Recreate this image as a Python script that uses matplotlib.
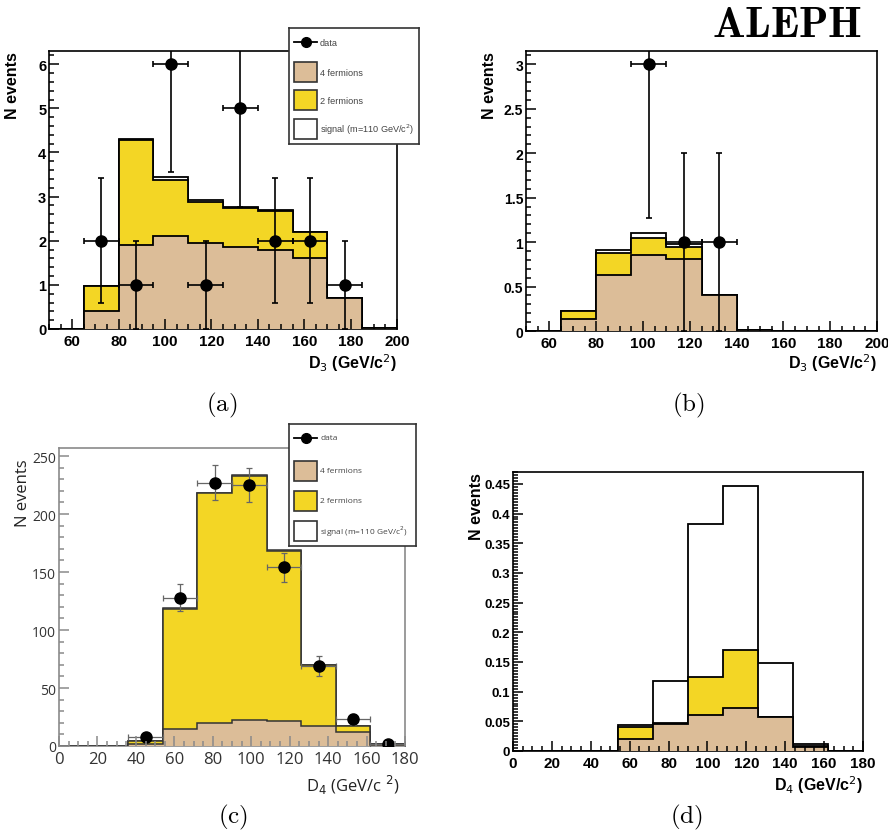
import numpy as np
import matplotlib.pyplot as plt
from matplotlib.patches import Rectangle
from matplotlib.ticker import MultipleLocator, FuncFormatter

W, H = 888, 837
TAN = '#dcbd98'
YELLOW = '#f3d625'

# ---- data ----
# (a) D3 spectrum, 15 GeV bins from 50 to 200
a_edges = np.arange(50, 201, 15)
a_4f = [0.0, 0.40, 1.90, 2.10, 1.95, 1.85, 1.80, 1.62, 0.70, 0.02]
a_2f = [0.0, 0.58, 2.38, 1.28, 0.93, 0.90, 0.88, 0.58, 0.00, 0.00]
a_sig = [0.0, 0.00, 0.02, 0.07, 0.04, 0.02, 0.01, 0.00, 0.00, 0.00]
a_data = [0, 2, 1, 6, 1, 5, 2, 2, 1, 0]

# (b) D3 after selection
b_edges = np.arange(50, 201, 15)
b_4f = [0.0, 0.14, 0.63, 0.85, 0.81, 0.40, 0.01, 0.0, 0.0, 0.0]
b_2f = [0.0, 0.09, 0.25, 0.20, 0.13, 0.00, 0.00, 0.0, 0.0, 0.0]
b_sig = [0.0, 0.00, 0.03, 0.05, 0.04, 0.01, 0.00, 0.0, 0.0, 0.0]
b_data = [0, 0, 0, 3, 1, 1, 0, 0, 0, 0]

# (c) D4 spectrum, 18 GeV bins from 0 to 180
c_edges = np.arange(0, 181, 18)
c_4f = [0, 0, 2.0, 15.0, 19.5, 22.5, 21.5, 17.0, 12.0, 1.0]
c_2f = [0, 0, 2.0, 103.5, 198.5, 210.0, 146.5, 52.5, 5.0, 0.5]
c_sig = [0, 0, 0.0, 0.2, 0.5, 1.0, 0.8, 0.3, 0.0, 0.0]
c_data = [0, 0, 8, 128, 227, 225, 154, 69, 23, 2]

# (d) D4 after selection
d_edges = np.arange(0, 181, 18)
d_4f = [0, 0, 0, 0.020, 0.046, 0.060, 0.073, 0.058, 0.006, 0]
d_2f = [0, 0, 0, 0.021, 0.001, 0.065, 0.097, 0.000, 0.002, 0]
d_sig = [0, 0, 0, 0.003, 0.071, 0.258, 0.276, 0.090, 0.003, 0]

fig = plt.figure(figsize=(W / 100, H / 100), dpi=100)


def px_axes(left, top, right, bottom):
    return fig.add_axes([left / W, 1 - bottom / H, (right - left) / W, (bottom - top) / H])


def stack(ax, edges, f4, f2, sig, lw=1.3, ec='black'):
    f4 = np.array(f4)
    tot2 = f4 + np.array(f2)
    tot = tot2 + np.array(sig)
    for z, (h, c) in enumerate([(tot, 'white'), (tot2, YELLOW), (f4, TAN)]):
        ax.stairs(h, edges, fill=True, color=c, zorder=1 + z)
        ax.stairs(h, edges, color=ec, lw=lw, zorder=1.5 + z)


def data_points(ax, edges, counts, ms=8, ecol='black', elw=1.2):
    counts = np.array(counts, dtype=float)
    centres = 0.5 * (edges[1:] + edges[:-1])
    half = 0.5 * np.diff(edges)
    m = counts > 0
    ax.errorbar(centres[m], counts[m], yerr=np.sqrt(counts[m]), xerr=half[m],
                fmt='o', color='black', ecolor=ecol, ms=ms, elinewidth=elw,
                capsize=2.5, capthick=elw, zorder=10, clip_on=True)


def style(ax, xlim, ylim, xmaj, xmin, ymaj, ymin, font, weight, xsize, ysize,
          frame='black'):
    ax.set_xlim(*xlim)
    ax.set_ylim(*ylim)
    ax.xaxis.set_major_locator(MultipleLocator(xmaj))
    ax.xaxis.set_minor_locator(MultipleLocator(xmin))
    ax.yaxis.set_major_locator(MultipleLocator(ymaj))
    ax.yaxis.set_minor_locator(MultipleLocator(ymin))
    ax.yaxis.set_major_formatter(FuncFormatter(lambda v, p: '%g' % round(v, 4)))
    ax.tick_params(axis='both', which='both', direction='in', top=False, right=False,
                   color=frame, width=1.1)
    ax.tick_params(axis='both', which='major', length=7)
    ax.tick_params(axis='both', which='minor', length=3.5)
    ax.tick_params(axis='y', pad=2)
    ax.xaxis.set_zorder(25)
    ax.yaxis.set_zorder(25)
    for lab in ax.get_xticklabels():
        lab.set_fontfamily(font); lab.set_fontweight(weight); lab.set_fontsize(xsize)
    for lab in ax.get_yticklabels():
        lab.set_fontfamily(font); lab.set_fontweight(weight); lab.set_fontsize(ysize)
    for s in ax.spines.values():
        s.set_color(frame)
        s.set_linewidth(1.2)


def legend_box(left, top, right, bottom, rows, font, weight, size):
    lax = px_axes(left, top, right, bottom)
    w, h = right - left, bottom - top
    lax.set_xlim(0, w)
    lax.set_ylim(h, 0)
    lax.set_xticks([])
    lax.set_yticks([])
    lax.set_zorder(30)
    for s in lax.spines.values():
        s.set_linewidth(1.2)
        s.set_color('#333333')
    ymark, ytan, yyel, ywhite, bx0, bx1, tx = rows
    lax.plot([bx0, bx1], [ymark, ymark], color='black', lw=1.3)
    lax.plot([(bx0 + bx1) / 2], [ymark], 'o', color='black', ms=7)
    for yc, c in [(ytan, TAN), (yyel, YELLOW), (ywhite, 'white')]:
        lax.add_patch(Rectangle((bx0, yc - 10), bx1 - bx0, 20, facecolor=c,
                                edgecolor='#333333', lw=1.2))
    labels = ['data', '4 fermions', '2 fermions', 'signal (m=110 GeV/c$^2$)']
    for yc, t in zip([ymark, ytan, yyel, ywhite], labels):
        lax.text(tx, yc, t, fontsize=size, color='#444444', va='center', ha='left',
                 family=font, weight=weight)


SANS = 'Liberation Sans'
LIGHT = 'Open Sans'

# ---- (a) ----
ax = px_axes(49, 52, 397, 330)
stack(ax, a_edges, a_4f, a_2f, a_sig)
data_points(ax, a_edges, a_data)
style(ax, (50, 200), (0, 6.3), 20, 5, 1, 0.2, SANS, 'bold', 11, 10.5)
ax.text(-0.105, 1.0, 'N events', rotation=90, ha='center', va='top',
        transform=ax.transAxes, fontsize=11.5, weight='bold', family=SANS)
ax.text(1.0, -0.118, r'D$_3$ (GeV/c$^2$)', ha='right', va='center',
        transform=ax.transAxes, fontsize=11.5, weight='bold', family=SANS,
        math_fontfamily='dejavusans')
legend_box(289, 29, 419, 145, (14, 44, 72, 101, 5, 28, 31), SANS, 'normal', 6.6)

# ---- (b) ----
ax = px_axes(526, 52, 877, 332)
stack(ax, b_edges, b_4f, b_2f, b_sig)
data_points(ax, b_edges, b_data)
style(ax, (50, 200), (0, 3.15), 20, 5, 0.5, 0.1, SANS, 'bold', 11, 10)
ax.text(-0.103, 1.0, 'N events', rotation=90, ha='center', va='top',
        transform=ax.transAxes, fontsize=11.5, weight='bold', family=SANS)
ax.text(1.0, -0.111, r'D$_3$ (GeV/c$^2$)', ha='right', va='center',
        transform=ax.transAxes, fontsize=11.5, weight='bold', family=SANS,
        math_fontfamily='dejavusans')

# ---- (c) ----
ax = px_axes(59, 449, 405, 747)
stack(ax, c_edges, c_4f, c_2f, c_sig, lw=1.1, ec='#333333')
data_points(ax, c_edges, c_data, ms=8, ecol='#666666', elw=0.9)
style(ax, (0, 180), (0, 257), 20, 5, 50, 10, LIGHT, 'normal', 12, 10,
      frame='#8a8a8a')
for lab in ax.get_xticklabels() + ax.get_yticklabels():
    lab.set_color('#333333')
ax.text(-0.104, 0.965, 'N events', rotation=90, ha='center', va='top',
        transform=ax.transAxes, fontsize=12, family=LIGHT, color='#222222')
ax.text(0.985, -0.13, r'D$_4$ (GeV/c $^2$)', ha='right', va='center',
        transform=ax.transAxes, fontsize=12, family=LIGHT, color='#222222',
        math_fontfamily='dejavusans')
legend_box(289, 425, 416, 547, (14, 47, 77, 107, 5, 28, 31), LIGHT, 'normal', 6.0)

# ---- (d) ----
ax = px_axes(513, 473, 863, 752)
stack(ax, d_edges, d_4f, d_2f, d_sig)
style(ax, (0, 180), (0, 0.47), 20, 5, 0.05, 0.005, SANS, 'bold', 11, 9.5)
ax.text(-0.103, 1.0, 'N events', rotation=90, ha='center', va='top',
        transform=ax.transAxes, fontsize=11.5, weight='bold', family=SANS)
ax.text(1.0, -0.118, r'D$_4$ (GeV/c$^2$)', ha='right', va='center',
        transform=ax.transAxes, fontsize=11.5, weight='bold', family=SANS,
        math_fontfamily='dejavusans')

# ---- panel captions and experiment tag ----
for x, y, t in [(222, 405, '(a)'), (688, 405, '(b)'), (233, 817, '(c)'), (686, 817, '(d)')]:
    fig.text(x / W, 1 - y / H, r'$\mathrm{%s}$' % t, ha='center', va='center',
             fontsize=18, math_fontfamily='cm')
fig.text(787 / W, 1 - 25 / H, r'$\mathbf{ALEPH}$', ha='center', va='center',
         fontsize=31, math_fontfamily='cm')

fig.savefig('out.png', dpi=100)
